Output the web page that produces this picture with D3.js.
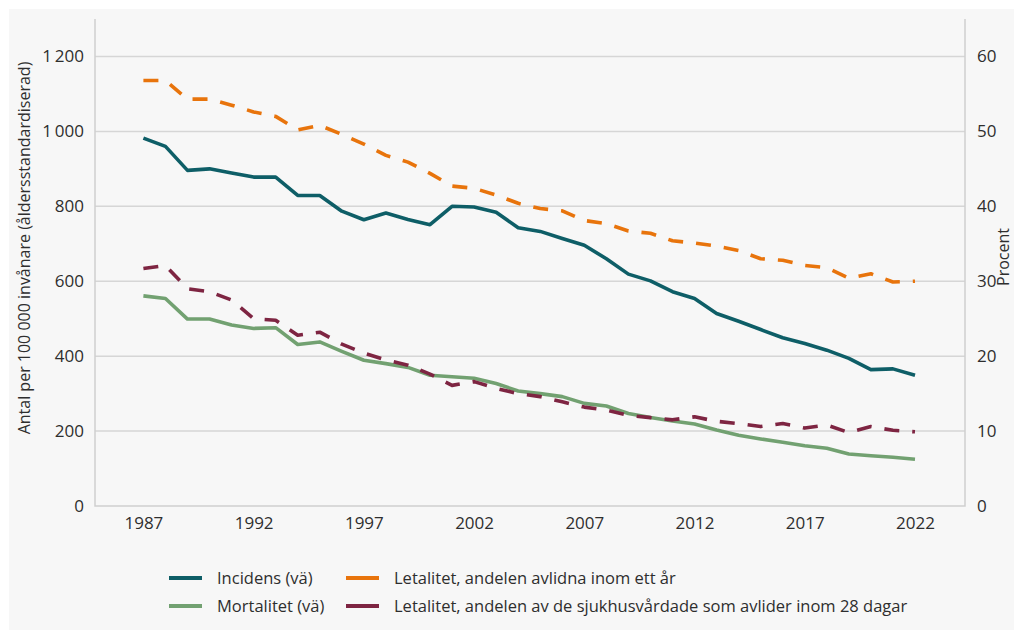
<!DOCTYPE html>
<html>
<head>
<meta charset="utf-8">
<script src="https://cdn.jsdelivr.net/npm/d3@7"></script>
<style>
  body { margin: 0; background: #ffffff; }
  svg { display: block; }
  text { font-family: "Open Sans", "DejaVu Sans", sans-serif; fill: #2e2e2e; }
</style>
</head>
<body>
<svg id="chart"></svg>
<script>
// data
var years = d3.range(1987, 2023);

var incidens = [982, 960, 896, 900, 889, 878, 878, 829, 829, 787,
  764, 782, 765, 751, 800, 798, 784, 743, 733, 714,
  696, 660, 619, 601, 572, 554, 514, 493, 471, 449,
  434, 416, 394, 364, 366, 349];

var mortalitet = [561, 554, 499, 499, 483, 474, 476, 431, 438, 413,
  389, 380, 370, 349, 345, 341, 327, 307, 300, 292,
  274, 267, 247, 236, 227, 219, 203, 189, 179, 170,
  161, 154, 139, 134, 130, 125];

var letalitetAr = [56.8, 56.8, 54.3, 54.3, 53.5, 52.6, 52.0, 50.2, 50.8, 49.6,
  48.3, 46.8, 45.9, 44.4, 42.7, 42.4, 41.5, 40.4, 39.7, 39.4,
  38.1, 37.7, 36.7, 36.4, 35.4, 35.1, 34.7, 34.1, 33.0, 32.8,
  32.1, 31.8, 30.4, 31.0, 29.9, 30.0];

var letalitet28 = [31.7, 32.1, 29.0, 28.6, 27.5, 25.0, 24.8, 22.8, 23.2, 21.6,
  20.4, 19.5, 18.8, 17.6, 16.1, 16.6, 15.7, 15.0, 14.6, 13.9,
  13.2, 12.8, 12.1, 11.8, 11.5, 11.9, 11.3, 11.0, 10.6, 11.0,
  10.4, 10.8, 9.8, 10.6, 10.1, 9.9];

var leftTicks = [0, 200, 400, 600, 800, 1000, 1200];
var rightTicks = [0, 10, 20, 30, 40, 50, 60];
var yearTicks = [1987, 1992, 1997, 2002, 2007, 2012, 2017, 2022];

var leftTitle = "Antal per 100 000 invånare (åldersstandardiserad)";
var rightTitle = "Procent";

var series = [
  {name: "Incidens (vä)", values: incidens, axis: "left", color: "#0e5e67", dash: null},
  {name: "Mortalitet (vä)", values: mortalitet, axis: "left", color: "#72a171", dash: null},
  {name: "Letalitet, andelen avlidna inom ett år", values: letalitetAr, axis: "right", color: "#e8740c", dash: "15,13"},
  {name: "Letalitet, andelen av de sjukhusvårdade som avlider inom 28 dagar", values: letalitet28, axis: "right", color: "#7e2542", dash: "15,13"}
];

var W = 1014, H = 630;
var plot = {left: 95, right: 965, top: 19, bottom: 506};

var svg = d3.select("#chart")
  .attr("width", W)
  .attr("height", H);

// grey panel with a thin white border top/left
svg.append("rect")
  .attr("x", 9).attr("y", 9)
  .attr("width", W - 9).attr("height", H - 9)
  .attr("fill", "#f7f7f7");

var x = d3.scaleLinear().domain([1987, 2022]).range([143.4, 915]);
var yL = d3.scaleLinear().domain([0, 1300]).range([plot.bottom, plot.top]);
var yR = d3.scaleLinear().domain([0, 65]).range([plot.bottom, plot.top]);

var sv = d3.formatLocale({decimal: ",", thousands: "\u2009", grouping: [3], currency: ["", " kr"]});

// gridlines
svg.append("g")
  .selectAll("line")
  .data(leftTicks.filter(function(d) { return d > 0; }))
  .enter().append("line")
  .attr("x1", plot.left).attr("x2", plot.right)
  .attr("y1", function(d) { return yL(d); })
  .attr("y2", function(d) { return yL(d); })
  .attr("stroke", "#d6d6d6")
  .attr("stroke-width", 1.5);

// frame: left, right, bottom
svg.append("path")
  .attr("d", "M" + plot.left + "," + plot.top + "V" + plot.bottom + "H" + plot.right + "V" + plot.top)
  .attr("fill", "none")
  .attr("stroke", "#cfcfcf")
  .attr("stroke-width", 1.5);

var gL = svg.append("g")
  .attr("transform", "translate(" + plot.left + ",0)")
  .call(d3.axisLeft(yL).tickValues(leftTicks).tickSize(0).tickPadding(11)
    .tickFormat(sv.format(",")));

var gR = svg.append("g")
  .attr("transform", "translate(" + plot.right + ",0)")
  .call(d3.axisRight(yR).tickValues(rightTicks).tickSize(0).tickPadding(12));

var gX = svg.append("g")
  .attr("transform", "translate(0," + plot.bottom + ")")
  .call(d3.axisBottom(x).tickValues(yearTicks).tickSize(0).tickPadding(11)
    .tickFormat(d3.format("d")));

[gL, gR, gX].forEach(function(g) {
  g.select(".domain").remove();
  g.selectAll("text")
    .attr("font-family", "Open Sans, sans-serif")
    .attr("font-size", 17)
    .attr("fill", "#2e2e2e");
});

// axis titles
svg.append("text")
  .attr("transform", "translate(30," + 248 + ") rotate(-90)")
  .attr("text-anchor", "middle")
  .attr("font-size", 16)
  .text(leftTitle);

svg.append("text")
  .attr("transform", "translate(1009," + 257 + ") rotate(-90)")
  .attr("text-anchor", "middle")
  .attr("font-size", 16)
  .text(rightTitle);

// lines
series.forEach(function(s) {
  var yy = s.axis === "left" ? yL : yR;
  var line = d3.line()
    .x(function(d, i) { return x(years[i]); })
    .y(function(d) { return yy(d); });
  svg.append("path")
    .datum(s.values)
    .attr("d", line)
    .attr("fill", "none")
    .attr("stroke", s.color)
    .attr("stroke-width", 3.6)
    .attr("stroke-dasharray", s.dash)
    .attr("stroke-linejoin", "round");
});

// legend: two columns, two rows
var legendPos = [
  {x: 169, y: 578}, {x: 169, y: 606},
  {x: 346, y: 578}, {x: 346, y: 606}
];

var legend = svg.append("g")
  .selectAll("g")
  .data(series)
  .enter().append("g")
  .attr("transform", function(d, i) { return "translate(" + legendPos[i].x + "," + legendPos[i].y + ")"; });

legend.append("line")
  .attr("x1", 0).attr("x2", 33)
  .attr("stroke", function(d) { return d.color; })
  .attr("stroke-width", 4);

legend.append("text")
  .attr("x", 48)
  .attr("dy", "0.35em")
  .attr("font-size", 16.5)
  .text(function(d) { return d.name; });
</script>
</body>
</html>
